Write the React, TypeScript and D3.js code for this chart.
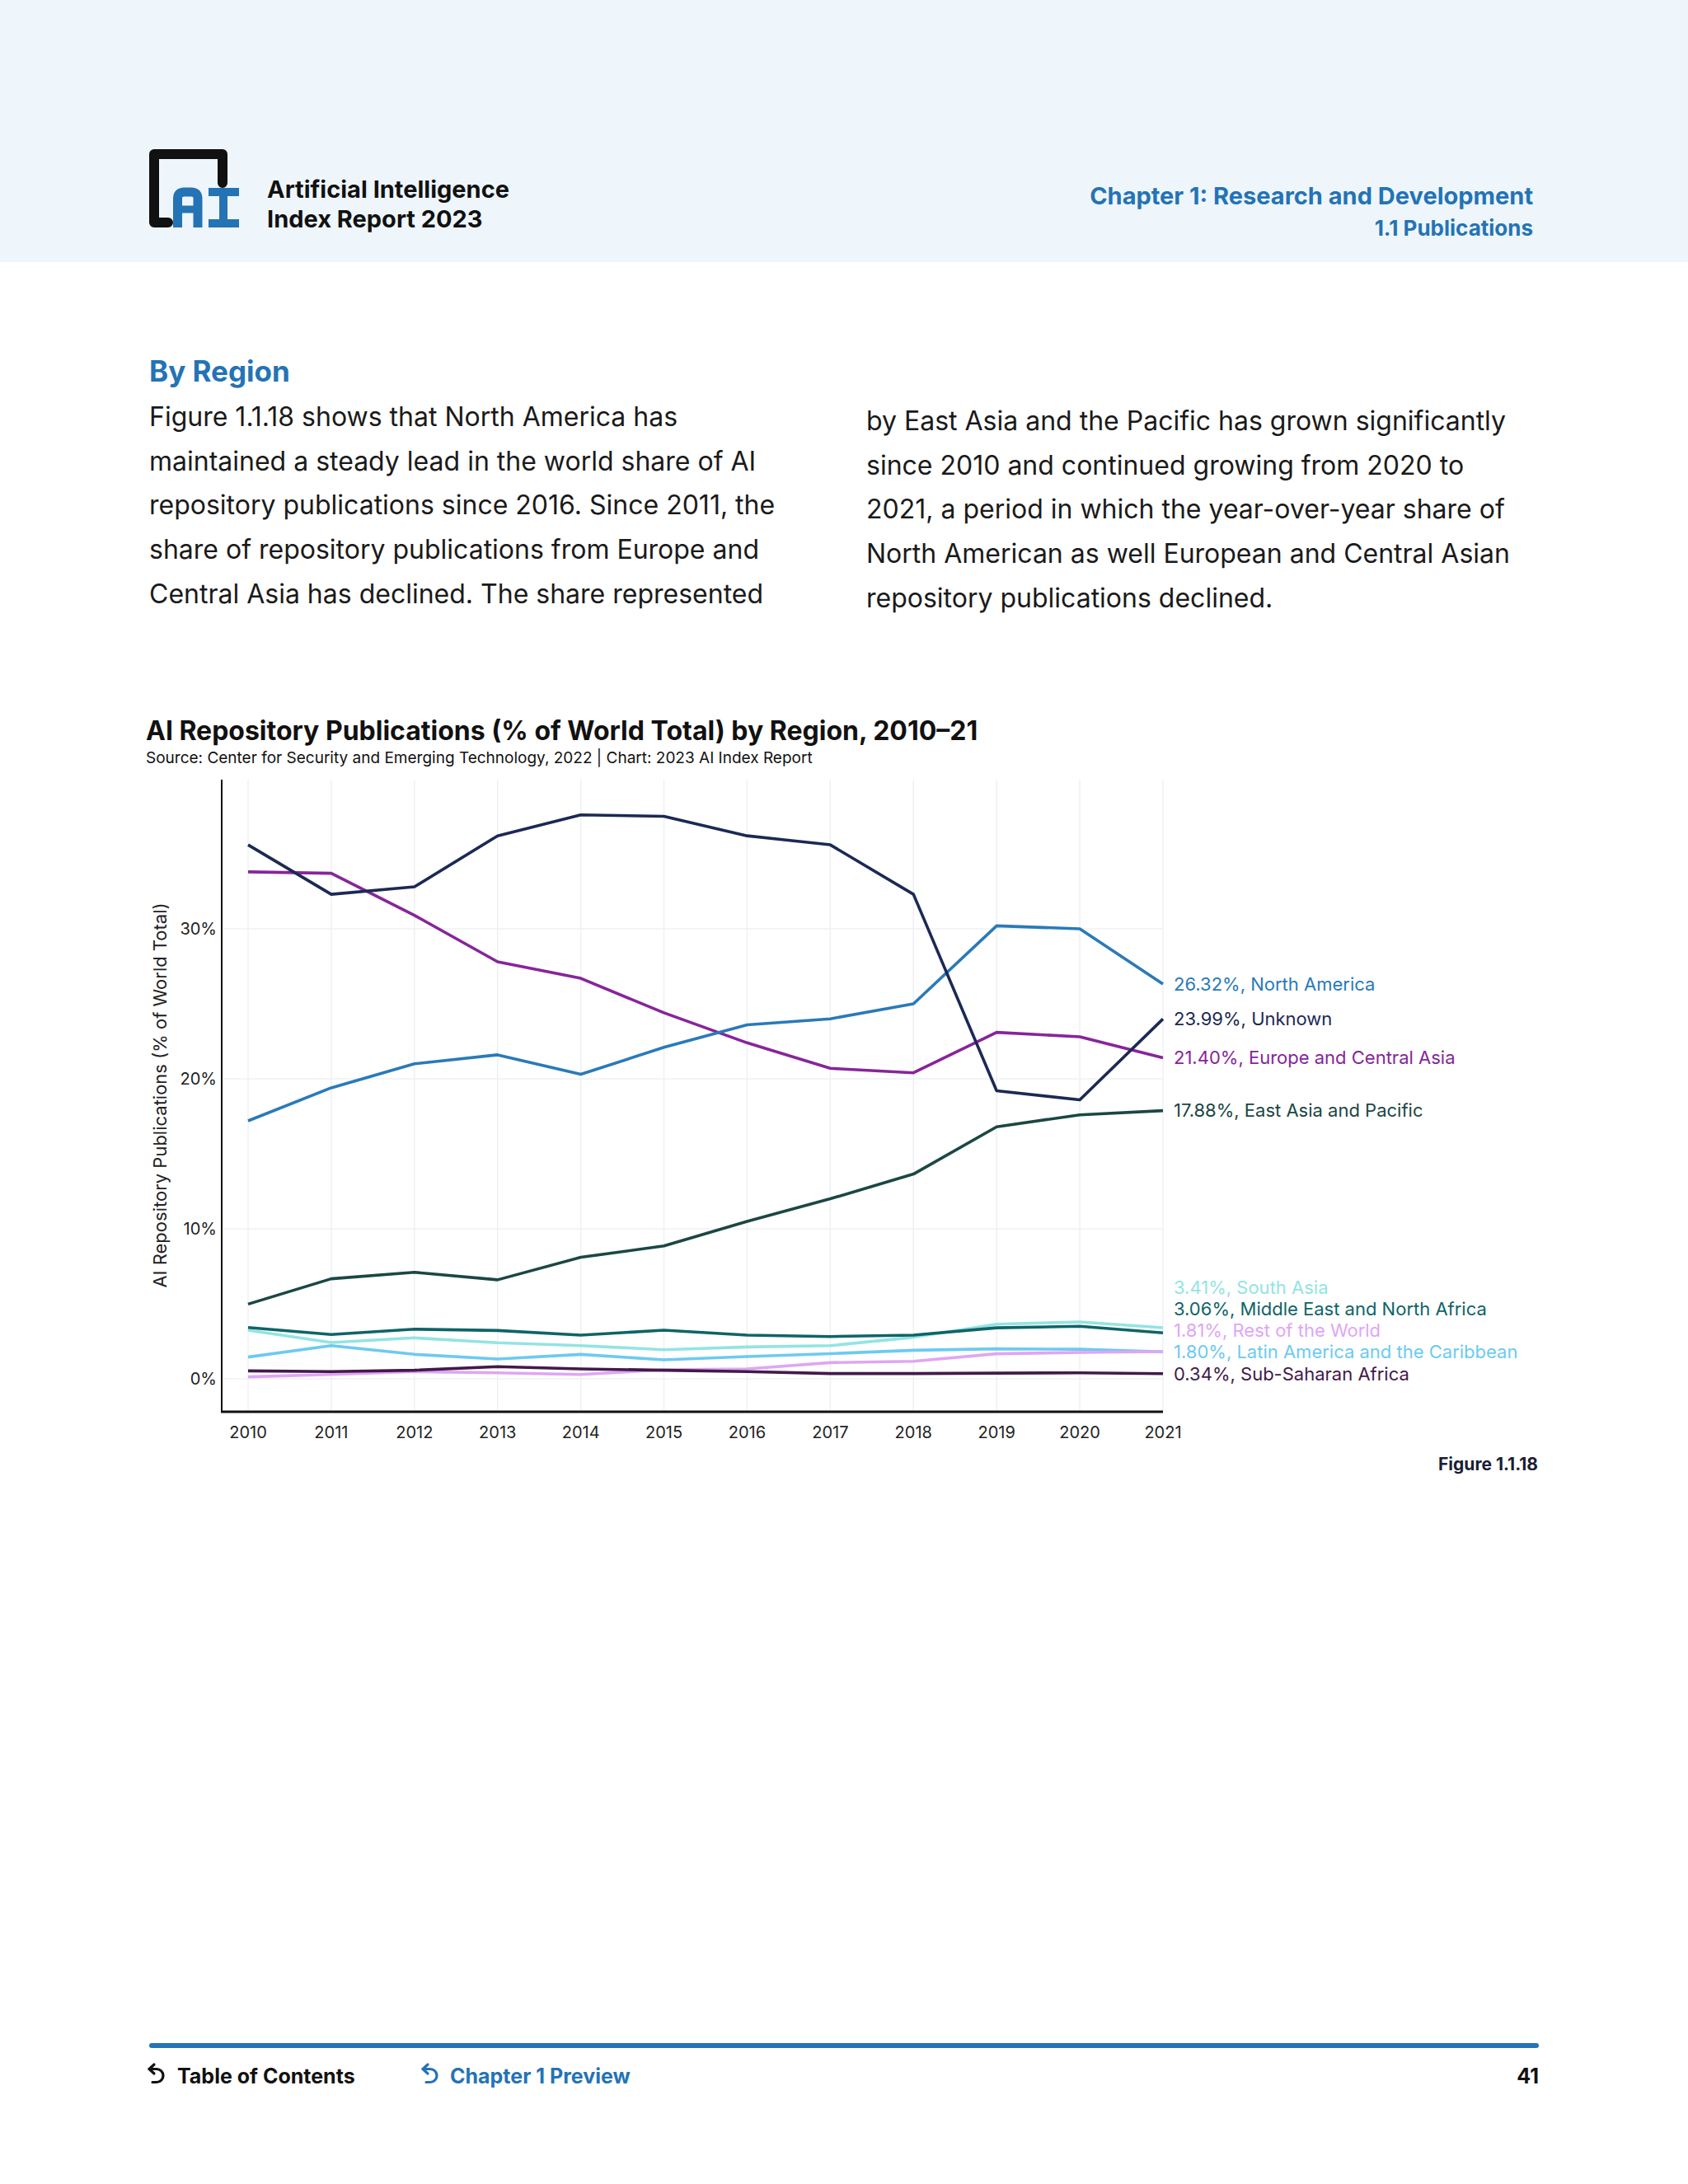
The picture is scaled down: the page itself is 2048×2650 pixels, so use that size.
import * as d3 from "d3";
import React from "react";

// AI Repository Publications (% of World Total) by Region, 2010–21
const years = [2010, 2011, 2012, 2013, 2014, 2015, 2016, 2017, 2018, 2019, 2020, 2021];

const unknown = [35.6, 32.3, 32.8, 36.2, 37.6, 37.5, 36.2, 35.6, 32.3, 19.2, 18.6, 23.99];
const northAmerica = [17.2, 19.4, 21.0, 21.6, 20.3, 22.1, 23.6, 24.0, 25.0, 30.2, 30.0, 26.32];
const europeCentralAsia = [33.8, 33.7, 30.9, 27.8, 26.7, 24.4, 22.4, 20.7, 20.4, 23.1, 22.8, 21.4];
const eastAsiaPacific = [4.98, 6.67, 7.1, 6.6, 8.1, 8.86, 10.5, 12.0, 13.65, 16.8, 17.6, 17.88];
const middleEastNorthAfrica = [3.42, 2.95, 3.31, 3.22, 2.91, 3.24, 2.91, 2.82, 2.91, 3.4, 3.5, 3.06];
const southAsia = [3.24, 2.42, 2.73, 2.4, 2.21, 1.94, 2.12, 2.21, 2.77, 3.64, 3.79, 3.41];
const latinAmerica = [1.45, 2.21, 1.63, 1.32, 1.63, 1.26, 1.48, 1.68, 1.9, 2.0, 1.97, 1.8];
const restOfWorld = [0.13, 0.29, 0.48, 0.4, 0.29, 0.6, 0.66, 1.08, 1.17, 1.67, 1.76, 1.81];
const subSaharanAfrica = [0.53, 0.48, 0.57, 0.81, 0.66, 0.57, 0.48, 0.35, 0.35, 0.38, 0.4, 0.34];

const yTicks = [0, 10, 20, 30];

const leftParagraph = [
  "Figure 1.1.18 shows that North America has",
  "maintained a steady lead in the world share of AI",
  "repository publications since 2016. Since 2011, the",
  "share of repository publications from Europe and",
  "Central Asia has declined. The share represented",
];
const rightParagraph = [
  "by East Asia and the Pacific has grown significantly",
  "since 2010 and continued growing from 2020 to",
  "2021, a period in which the year-over-year share of",
  "North American as well European and Central Asian",
  "repository publications declined.",
];

// drawing order: light/small lines first
const series = [
  { name: "South Asia", values: southAsia },
  { name: "Latin America and the Caribbean", values: latinAmerica },
  { name: "Rest of the World", values: restOfWorld },
  { name: "Sub-Saharan Africa", values: subSaharanAfrica },
  { name: "Middle East and North Africa", values: middleEastNorthAfrica },
  { name: "East Asia and Pacific", values: eastAsiaPacific },
  { name: "Europe and Central Asia", values: europeCentralAsia },
  { name: "North America", values: northAmerica },
  { name: "Unknown", values: unknown },
];

const colors: Record<string, string> = {
  "South Asia": "#93e4e3",
  "Latin America and the Caribbean": "#6dcaf0",
  "Rest of the World": "#dfa6f3",
  "Sub-Saharan Africa": "#421a4a",
  "Middle East and North Africa": "#0f6466",
  "East Asia and Pacific": "#1b4744",
  "Europe and Central Asia": "#87259a",
  "North America": "#2a7ab8",
  Unknown: "#1b2955",
};

const BLUE = "#2473b5";
const FONT = "Inter, Lato, 'Noto Sans', sans-serif";

const W = 2048;
const H = 2650;

// plot frame
const axisX = 269;
const axisTop = 946;
const axisBottom = 1713;

const xScale = d3.scaleLinear().domain([2010, 2021]).range([301, 1411]);
const yScale = d3.scaleLinear().domain([0, 30]).range([1673, 1127]);

const line = d3
  .line<number>()
  .x((_, i) => xScale(years[i]))
  .y((d) => yScale(d));

const ReturnIcon = ({ x, y, color }: { x: number; y: number; color: string }) => (
  <g transform={`translate(${x},${y})`} fill="none" stroke={color} strokeWidth={3.2} strokeLinecap="round" strokeLinejoin="round">
    <path d="M 7 -23 L 1 -17.5 L 7 -12" />
    <path d="M 1 -17.5 H 10 A 8 8 0 0 1 10 -1.5 H 5" />
  </g>
);

export default function App() {
  const last = years.length - 1;

  // end labels, pushed apart from the bottom up
  const labels = series
    .map((s) => ({ name: s.name, value: s.values[last], y: yScale(s.values[last]), ly: 0 }))
    .sort((a, b) => b.y - a.y);
  let prev = Infinity;
  labels.forEach((l) => {
    l.ly = Math.min(l.y, prev - 26);
    prev = l.ly;
  });

  return (
    <svg
      width={W}
      height={H}
      viewBox={`0 0 ${W} ${H}`}
      style={{ position: "absolute", left: 0, top: 0, display: "block", background: "#fff" }}
      fontFamily={FONT}
    >
      {/* header band */}
      <rect x={0} y={0} width={W} height={318} fill="#eef6fc" />
      <g>
        <path d="M 204 270 H 187 V 187 H 270 V 222" fill="none" stroke="#111" strokeWidth={12} strokeLinejoin="round" strokeLinecap="round" />
        <path d="M 215.5 276 V 241 Q 215.5 233 223.5 233 H 232 Q 240 233 240 241 V 276" fill="none" stroke={BLUE} strokeWidth={11} />
        <path d="M 215.5 254 H 240" stroke={BLUE} strokeWidth={9} />
        <path d="M 253 233 H 290 M 253 271 H 290 M 271 233 V 271" stroke={BLUE} strokeWidth={10} />
      </g>
      <text x={324} y={240} fontSize={29} fontWeight={700} fill="#111">Artificial Intelligence</text>
      <text x={324} y={276} fontSize={29} fontWeight={700} fill="#111">Index Report 2023</text>
      <text x={1860} y={248} fontSize={29} fontWeight={700} fill={BLUE} textAnchor="end">Chapter 1: Research and Development</text>
      <text x={1860} y={286} fontSize={26} fontWeight={700} fill={BLUE} textAnchor="end">1.1 Publications</text>

      {/* intro text */}
      <text x={181} y={463} fontSize={35} fontWeight={700} fill={BLUE}>By Region</text>
      {leftParagraph.map((t, i) => (
        <text key={"l" + i} x={181} y={517 + i * 53.7} fontSize={32} fill="#1a1a1a">{t}</text>
      ))}
      {rightParagraph.map((t, i) => (
        <text key={"r" + i} x={1051} y={522 + i * 53.7} fontSize={32} fill="#1a1a1a">{t}</text>
      ))}

      {/* chart title */}
      <text x={177} y={898} fontSize={32} fontWeight={700} fill="#111">AI Repository Publications (% of World Total) by Region, 2010–21</text>
      <text x={177} y={926} fontSize={19} fill="#111">Source: Center for Security and Emerging Technology, 2022 | Chart: 2023 AI Index Report</text>

      {/* grid */}
      {years.map((yr) => (
        <line key={"vg" + yr} x1={xScale(yr)} x2={xScale(yr)} y1={axisTop} y2={axisBottom} stroke="#eef0f3" strokeWidth={1.5} />
      ))}
      {yTicks.map((t) => (
        <line key={"hg" + t} x1={axisX} x2={xScale(2021)} y1={yScale(t)} y2={yScale(t)} stroke="#eef0f3" strokeWidth={1.5} />
      ))}

      {/* axes */}
      <line x1={axisX} x2={axisX} y1={axisTop} y2={axisBottom} stroke="#111" strokeWidth={2} />
      <line x1={axisX - 1} x2={xScale(2021)} y1={axisBottom} y2={axisBottom} stroke="#111" strokeWidth={3} />
      {yTicks.map((t) => (
        <text key={"yt" + t} x={263} y={yScale(t)} dy="0.35em" fontSize={20} textAnchor="end" fill="#222">{t}%</text>
      ))}
      {years.map((yr) => (
        <text key={"xt" + yr} x={xScale(yr)} y={1745} fontSize={20} textAnchor="middle" fill="#222">{yr}</text>
      ))}
      <text transform="translate(194,1329) rotate(-90)" dy="0.35em" fontSize={22} textAnchor="middle" fill="#222">
        AI Repository Publications (% of World Total)
      </text>

      {/* lines */}
      {series.map((s) => (
        <path key={s.name} d={line(s.values) || undefined} fill="none" stroke={colors[s.name]} strokeWidth={3.6} strokeLinejoin="round" />
      ))}

      {/* end labels */}
      {labels.map((l) => (
        <text key={"lab" + l.name} x={1424} y={l.ly} dy="0.35em" fontSize={22} fill={colors[l.name]}>
          {l.value.toFixed(2)}%, {l.name}
        </text>
      ))}

      <text x={1866} y={1784} fontSize={21} fontWeight={700} fill="#1a2033" textAnchor="end">Figure 1.1.18</text>

      {/* footer */}
      <rect x={181} y={2479} width={1686} height={6} rx={3} fill={BLUE} />
      <ReturnIcon x={180} y={2528} color="#111" />
      <text x={215} y={2528} fontSize={25} fontWeight={700} fill="#111">Table of Contents</text>
      <ReturnIcon x={512} y={2528} color={BLUE} />
      <text x={546} y={2528} fontSize={25} fontWeight={700} fill={BLUE}>Chapter 1 Preview</text>
      <text x={1867} y={2528} fontSize={25} fontWeight={700} fill="#111" textAnchor="end">41</text>
    </svg>
  );
}
